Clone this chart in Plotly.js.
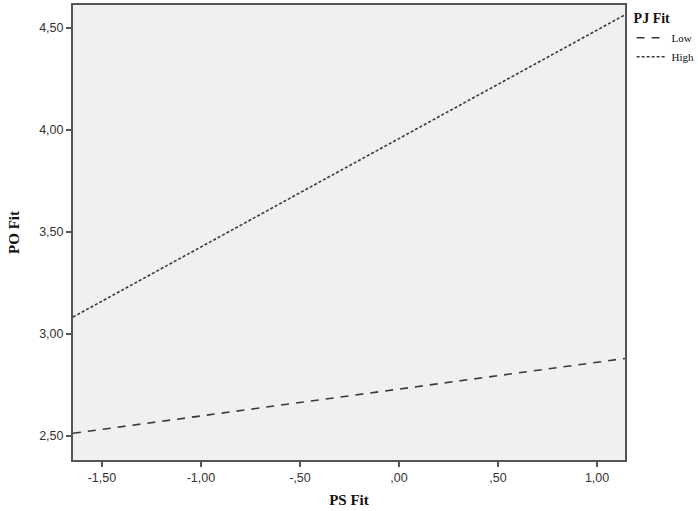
<!DOCTYPE html>
<html>
<head>
<meta charset="utf-8">
<script src="https://cdn.plot.ly/plotly-3.0.1.min.js"></script>
<style>html,body{margin:0;padding:0;background:#fff;}#chart{width:698px;height:511px;}</style>
</head>
<body>
<div id="chart"></div>
<script>
const psFit = [-1.646, 1.141];
const lowPO = [2.513, 2.880];
const highPO = [3.083, 4.565];
const seriesNames = ["Low", "High"];
const xTickVals = [-1.5, -1.0, -0.5, 0, 0.5, 1.0];
const xTickText = ["-1,50", "-1,00", "-,50", ",00", ",50", "1,00"];
const yTickVals = [2.5, 3.0, 3.5, 4.0, 4.5];
const yTickText = ["2,50", "3,00", "3,50", "4,00", "4,50"];

const lineCol = '#3a3a3a';
const traces = [
  {x: psFit, y: lowPO, name: seriesNames[0], mode: 'lines', line: {color: lineCol, width: 1.6, dash: '8px,7px'}},
  {x: psFit, y: highPO, name: seriesNames[1], mode: 'lines', line: {color: lineCol, width: 1.6, dash: '3px,2px'}}
];
const axisCommon = {
  showgrid: false, zeroline: false, showline: true, mirror: true, automargin: false,
  linecolor: '#555', linewidth: 2, ticks: 'outside', ticklen: 5, tickwidth: 2, tickcolor: '#555',
  tickfont: {family: 'Liberation Sans, Arial, sans-serif', size: 12.5, color: '#333'}
};
const layout = {
  width: 698, height: 511,
  margin: {l: 73, r: 73, t: 5, b: 51, autoexpand: false},
  paper_bgcolor: '#ffffff', plot_bgcolor: '#eff0ef',
  xaxis: Object.assign({}, axisCommon, {
    range: [-1.646, 1.141], tickmode: 'array', tickvals: xTickVals, ticktext: xTickText,
    title: {text: 'PS Fit', standoff: 10, font: {family: 'Liberation Serif, Times New Roman, serif', size: 15, color: '#111', weight: 'bold'}}
  }),
  yaxis: Object.assign({}, axisCommon, {
    range: [2.382, 4.613], tickmode: 'array', tickvals: yTickVals, ticktext: yTickText,
    title: {text: 'PO Fit', standoff: 16, font: {family: 'Liberation Serif, Times New Roman, serif', size: 15, color: '#111', weight: 'bold'}}
  }),
  showlegend: true,
  legend: {
    x: 1.012, y: 1.0, xanchor: 'left', yanchor: 'top',
    bgcolor: 'rgba(0,0,0,0)', borderwidth: 0,
    title: {text: '<b>PJ Fit</b>', font: {family: 'Liberation Serif, Times New Roman, serif', size: 14, color: '#111'}},
    font: {family: 'Liberation Serif, Times New Roman, serif', size: 11, color: '#111'},
    itemwidth: 30, tracegroupgap: 0
  }
};
Plotly.newPlot('chart', traces, layout, {displayModeBar: false, staticPlot: true});
</script>
</body>
</html>
